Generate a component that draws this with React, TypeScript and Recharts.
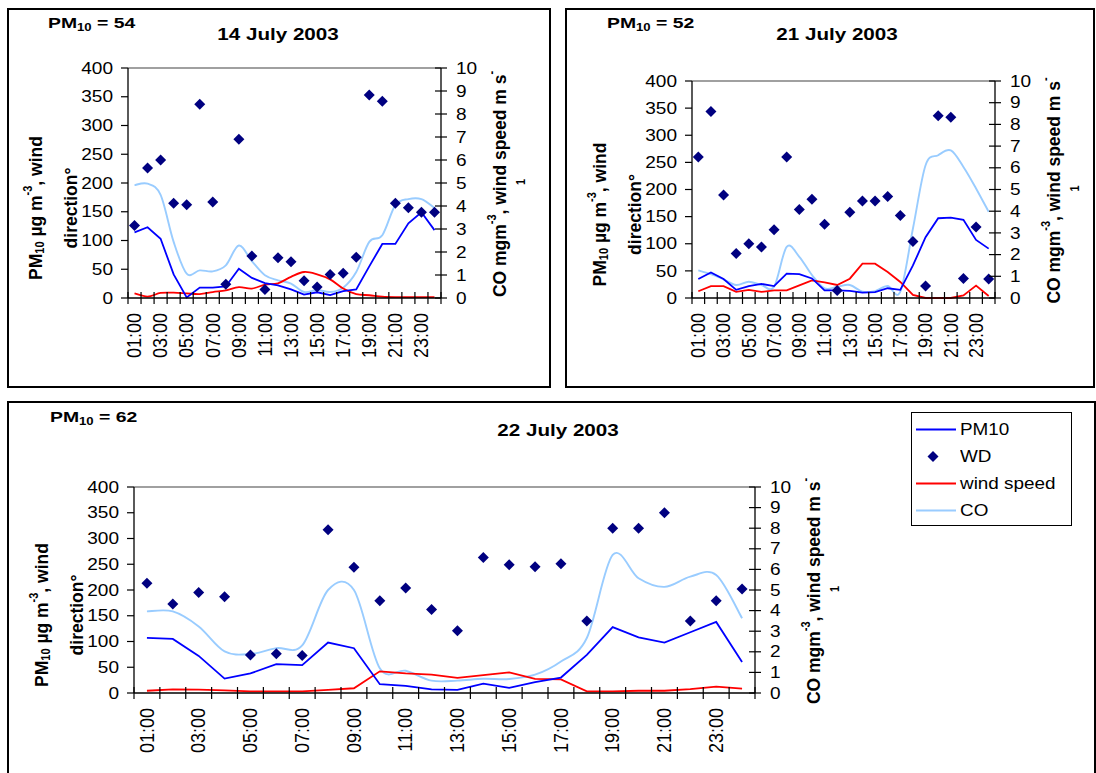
import React from "react";
import { ComposedChart, Line, XAxis, YAxis, ReferenceLine, Legend } from "recharts";

// ---------- categories & ticks ----------
const hours = [
  "01:00", "02:00", "03:00", "04:00", "05:00", "06:00", "07:00", "08:00",
  "09:00", "10:00", "11:00", "12:00", "13:00", "14:00", "15:00", "16:00",
  "17:00", "18:00", "19:00", "20:00", "21:00", "22:00", "23:00", "24:00",
];
const leftTicks = [0, 50, 100, 150, 200, 250, 300, 350, 400];
const rightTicks = [0, 1, 2, 3, 4, 5, 6, 7, 8, 9, 10];
const dayTitles = ["14 July 2003", "21 July 2003", "22 July 2003"];
const dayMeans = [54, 52, 62];
const seriesNames = { pm10: "PM10", wd: "WD", ws: "wind speed", co: "CO" };
const legendOrder = ["pm10", "wd", "ws", "co"];

// ---------- 14 July 2003 ----------
const pm10_14 = [114, 123, 103, 41, 1, 18, 18, 20, 51, 35, 26, 22, 15, 6, 10, 5, 12, 15, 55, 94, 94, 130, 149, 118];
const wd_14 = [126, 226, 240, 165, 162, 337, 167, 24, 276, 73, 15, 70, 63, 30, 19, 41, 43, 71, 353, 342, 165, 157, 149, 149];
const ws_14 = [0.2, 0.06, 0.22, 0.23, 0.2, 0.17, 0.26, 0.33, 0.47, 0.41, 0.58, 0.64, 0.92, 1.13, 1.03, 0.81, 0.41, 0.17, 0.12, 0.06, 0.04, 0.04, 0.04, 0.04];
const co_14 = [4.91, 4.97, 4.48, 2.44, 1.06, 1.2, 1.16, 1.42, 2.28, 1.6, 0.99, 0.77, 0.63, 0.26, 0.35, 0.26, 0.45, 1.13, 2.44, 2.73, 4.04, 4.3, 4.3, 3.92];

// ---------- 21 July 2003 ----------
const pm10_21 = [35, 47, 35, 15, 22, 26, 22, 45, 44, 36, 14, 14, 13, 10, 11, 18, 15, 60, 112, 147, 148, 144, 107, 91];
const wd_21 = [260, 344, 190, 82, 100, 94, 126, 260, 163, 182, 136, 14, 158, 179, 179, 187, 152, 104, 22, 336, 333, 36, 131, 35];
const ws_21 = [0.31, 0.55, 0.55, 0.28, 0.37, 0.28, 0.35, 0.35, 0.58, 0.81, 0.72, 0.6, 0.89, 1.58, 1.58, 1.2, 0.74, 0.14, 0, 0, 0, 0.12, 0.57, 0.09];
const co_21 = [1.27, 1.1, 0.86, 0.6, 0.75, 0.6, 0.52, 2.36, 1.9, 1.06, 0.44, 0.52, 0.6, 0.29, 0.32, 0.55, 0.29, 3.2, 6.12, 6.58, 6.8, 6.04, 5.05, 3.97];

// ---------- 22 July 2003 ----------
const pm10_22 = [107, 105, 72, 28, 38, 56, 54, 98, 87, 17, 14, 7, 6, 18, 10, 21, 30, 74, 128, 108, 98, 118, 138, 60];
const wd_22 = [213, 173, 195, 187, 74, 76, 73, 317, 244, 179, 204, 162, 121, 263, 249, 245, 251, 140, 320, 320, 350, 140, 179, 202];
const ws_22 = [0.11, 0.18, 0.16, 0.13, 0.08, 0.08, 0.08, 0.15, 0.23, 1.05, 0.95, 0.89, 0.73, 0.87, 1.0, 0.69, 0.66, 0.08, 0.08, 0.11, 0.11, 0.19, 0.31, 0.21];
const co_22 = [3.96, 3.96, 3.23, 2.02, 1.89, 2.18, 2.31, 5.0, 5.0, 1.2, 1.08, 0.6, 0.6, 0.69, 0.68, 0.89, 1.53, 2.67, 6.7, 5.57, 5.15, 5.65, 5.73, 3.63];

// ---------- styles ----------
const FONT = '"Liberation Sans", Arial, Helvetica, sans-serif';
const COLORS: Record<string, string> = { pm10: "#0000FF", wd: "#000080", ws: "#FF0000", co: "#99CCFF" };
const Y_TICK_SIZE = 7;
const Y_TICK_MARGIN = 8;
const X_TICK_SIZE = 6;
const X_TICK_MARGIN = 9;
const SX_TICK = 1.12;
const SX_TITLE = 1.25;
const SX_ROT = 1.1;

// Excel-like smoothed line (Catmull-Rom as cubic Bezier)
const excelSmooth: any = (context: any) => {
  let pts: number[][] = [];
  return {
    areaStart() {},
    areaEnd() {},
    lineStart() {
      pts = [];
    },
    lineEnd() {
      const n = pts.length;
      if (n === 0) return;
      context.moveTo(pts[0][0], pts[0][1]);
      for (let i = 0; i < n - 1; i++) {
        const p0 = pts[i > 0 ? i - 1 : i];
        const p1 = pts[i];
        const p2 = pts[i + 1];
        const p3 = pts[i + 2 < n ? i + 2 : i + 1];
        context.bezierCurveTo(
          p1[0] + (p2[0] - p0[0]) / 6,
          p1[1] + (p2[1] - p0[1]) / 6,
          p2[0] - (p3[0] - p1[0]) / 6,
          p2[1] - (p3[1] - p1[1]) / 6,
          p2[0],
          p2[1]
        );
      }
    },
    point(x: number, y: number) {
      pts.push([+x, +y]);
    },
  };
};

const xTicks = [
  ...hours.map((_, i) => i + 0.5),
  hours.length + 0.5,
  ...hours.map((_, i) => i + 1).filter((h) => h % 2 === 1),
].sort((a, b) => a - b);

const XTick = (props: any) => {
  const { x, y, payload } = props;
  const v = payload.value;
  const axisY = y - X_TICK_MARGIN - X_TICK_SIZE;
  if (v % 1 !== 0) {
    return <line x1={x} x2={x} y1={axisY - 6} y2={axisY + 6} stroke="#000" strokeWidth={1.2} />;
  }
  return (
    <text
      transform={`translate(${x} ${y}) scale(${SX_ROT} 1) rotate(-90)`}
      textAnchor="end"
      dominantBaseline="central"
      fontSize={18}
      fontFamily={FONT}
      fill="#000"
    >
      {hours[v - 1]}
    </text>
  );
};

const LeftTick = (props: any) => {
  const { x, y, payload } = props;
  return (
    <text
      transform={`translate(${x} ${y}) scale(${SX_TICK} 1)`}
      textAnchor="end"
      dominantBaseline="central"
      fontSize={17}
      fontFamily={FONT}
      fill="#000"
    >
      {payload.value}
    </text>
  );
};

const RightTick = (props: any) => {
  const { x, y, payload } = props;
  const axisX = x - Y_TICK_MARGIN - Y_TICK_SIZE;
  return (
    <g>
      <line x1={axisX - 6} x2={axisX + 6} y1={y} y2={y} stroke="#000" strokeWidth={1.2} />
      <text
        transform={`translate(${x} ${y}) scale(${SX_TICK} 1)`}
        textAnchor="start"
        dominantBaseline="central"
        fontSize={17}
        fontFamily={FONT}
        fill="#000"
      >
        {payload.value}
      </text>
    </g>
  );
};

const Diamond = (props: any) => {
  const { cx, cy, index } = props;
  if (cx == null || cy == null) return <g key={`d${index}`} />;
  const r = 5.5;
  return (
    <path
      key={`d${index}`}
      d={`M${cx},${cy - r}L${cx + r},${cy}L${cx},${cy + r}L${cx - r},${cy}Z`}
      fill={COLORS.wd}
    />
  );
};

const LegendBox = (props: any) => {
  const payload = (props.payload || []).slice();
  payload.sort(
    (a: any, b: any) => legendOrder.indexOf(a.dataKey) - legendOrder.indexOf(b.dataKey)
  );
  return (
    <div
      style={{
        boxSizing: "border-box",
        width: 161,
        height: 114,
        border: "1px solid #000",
        background: "#fff",
        paddingTop: 3,
      }}
    >
      {payload.map((entry: any) => (
        <div key={entry.dataKey} style={{ display: "flex", alignItems: "center", height: 27 }}>
          <svg width={46} height={27} style={{ display: "block" }}>
            {entry.dataKey === "wd" ? (
              <path d="M21,8L26.5,13.5L21,19L15.5,13.5Z" fill={COLORS.wd} />
            ) : (
              <line x1={4} x2={44} y1={13.5} y2={13.5} stroke={COLORS[entry.dataKey]} strokeWidth={1.8} />
            )}
          </svg>
          <span
            style={{
              fontFamily: FONT,
              fontSize: 16,
              color: "#000",
              marginLeft: 2,
              display: "inline-block",
              transform: "scaleX(1.18)",
              transformOrigin: "left center",
              whiteSpace: "nowrap",
            }}
          >
            {entry.value}
          </span>
        </div>
      ))}
    </div>
  );
};

type PanelLayout = {
  left: number;
  top: number;
  width: number;
  height: number;
  mTop: number;
  mRight: number;
  leftW: number;
  rightW: number;
  xH: number;
  meanX: number;
  meanY: number;
  titleX: number;
  titleY: number;
  legend: boolean;
};

const layouts: PanelLayout[] = [
  { left: 7, top: 8, width: 544, height: 380, mTop: 60, mRight: 0, leftW: 121, rightW: 110, xH: 90, meanX: 48, meanY: 28, titleX: 278, titleY: 40, legend: false },
  { left: 565, top: 8, width: 530, height: 380, mTop: 73, mRight: 0, leftW: 127, rightW: 100, xH: 90, meanX: 607, meanY: 28, titleX: 837, titleY: 40, legend: false },
  { left: 7, top: 401, width: 1089, height: 380, mTop: 86, mRight: 241, leftW: 127, rightW: 100, xH: 88, meanX: 50, meanY: 422, titleX: 558, titleY: 436, legend: true },
];

const panelData = [
  { pm10: pm10_14, wd: wd_14, ws: ws_14, co: co_14, wsSmooth: true },
  { pm10: pm10_21, wd: wd_21, ws: ws_21, co: co_21, wsSmooth: false },
  { pm10: pm10_22, wd: wd_22, ws: ws_22, co: co_22, wsSmooth: false },
];

const Panel = ({ idx }: { idx: number }) => {
  const L = layouts[idx];
  const d = panelData[idx];
  const rows = hours.map((h, i) => ({
    hour: i + 1,
    label: h,
    pm10: d.pm10[i],
    wd: d.wd[i],
    ws: d.ws[i],
    co: d.co[i],
  }));
  return (
    <div style={{ position: "absolute", left: L.left, top: L.top, width: L.width, height: L.height }}>
      <ComposedChart
        width={L.width}
        height={L.height}
        data={rows}
        margin={{ top: L.mTop, right: L.mRight, bottom: 0, left: 0 }}
      >
        <XAxis
          xAxisId={0}
          type="number"
          dataKey="hour"
          domain={[0.5, hours.length + 0.5]}
          ticks={xTicks}
          interval={0}
          tickSize={X_TICK_SIZE}
          tickMargin={X_TICK_MARGIN}
          tickLine={false}
          tick={<XTick />}
          axisLine={{ stroke: "#000", strokeWidth: 1.3 }}
          height={L.xH}
        />
        <YAxis
          yAxisId="l"
          orientation="left"
          domain={[0, 400]}
          ticks={leftTicks}
          interval={0}
          width={L.leftW}
          tickSize={Y_TICK_SIZE}
          tickMargin={Y_TICK_MARGIN}
          tickLine={{ stroke: "#000", strokeWidth: 1.2 }}
          axisLine={{ stroke: "#000", strokeWidth: 1.3 }}
          tick={<LeftTick />}
        />
        <YAxis
          yAxisId="r"
          orientation="right"
          domain={[0, 10]}
          ticks={rightTicks}
          interval={0}
          width={L.rightW}
          tickSize={Y_TICK_SIZE}
          tickMargin={Y_TICK_MARGIN}
          tickLine={false}
          axisLine={{ stroke: "#000", strokeWidth: 1.3 }}
          tick={<RightTick />}
        />
        <ReferenceLine yAxisId="l" y={400} stroke="#808080" strokeWidth={1.3} />
        <Line
          yAxisId="r"
          dataKey="co"
          name={seriesNames.co}
          stroke={COLORS.co}
          strokeWidth={1.9}
          type={excelSmooth}
          dot={false}
          activeDot={false}
          isAnimationActive={false}
        />
        <Line
          yAxisId="r"
          dataKey="ws"
          name={seriesNames.ws}
          stroke={COLORS.ws}
          strokeWidth={1.8}
          type={d.wsSmooth ? excelSmooth : "linear"}
          dot={false}
          activeDot={false}
          isAnimationActive={false}
        />
        <Line
          yAxisId="l"
          dataKey="pm10"
          name={seriesNames.pm10}
          stroke={COLORS.pm10}
          strokeWidth={1.8}
          type="linear"
          dot={false}
          activeDot={false}
          isAnimationActive={false}
        />
        <Line
          yAxisId="l"
          dataKey="wd"
          name={seriesNames.wd}
          stroke="none"
          legendType="diamond"
          type="linear"
          dot={(p: any) => <Diamond {...p} key={`wd${p.index}`} />}
          activeDot={false}
          isAnimationActive={false}
        />
        {L.legend && (
          <Legend
            layout="vertical"
            align="center"
            verticalAlign="middle"
            content={<LegendBox />}
            wrapperStyle={{ position: "absolute", left: 904, top: 11, width: 161, height: 114 }}
          />
        )}
      </ComposedChart>
      <div
        style={{
          position: "absolute",
          left: 0,
          top: 0,
          width: L.width,
          height: L.height,
          boxSizing: "border-box",
          border: "2px solid #000",
          pointerEvents: "none",
        }}
      />
    </div>
  );
};

const Titles = () => (
  <svg
    width={1096}
    height={773}
    style={{ position: "absolute", left: 0, top: 0, pointerEvents: "none" }}
  >
    {layouts.map((L, idx) => {
      const plotLeft = L.left + L.leftW;
      const plotRight = L.left + L.width - L.mRight - L.rightW;
      const plotTop = L.top + L.mTop;
      const plotBottom = L.top + L.height - L.xH;
      const cy = (plotTop + plotBottom) / 2;
      return (
        <g key={idx} fontFamily={FONT} fill="#000" fontWeight="bold">
          <text transform={`translate(${L.meanX} ${L.meanY}) scale(${SX_TITLE} 1)`} fontSize={15.5}>
            PM
            <tspan fontSize={10.5} dy={3}>10</tspan>
            <tspan dy={-3}> = {dayMeans[idx]}</tspan>
          </text>
          <text
            transform={`translate(${L.titleX} ${L.titleY}) scale(${SX_TITLE} 1)`}
            fontSize={16.5}
            textAnchor="middle"
          >
            {dayTitles[idx]}
          </text>
          <text
            transform={`translate(${plotLeft - 93} ${cy + 25}) scale(${SX_ROT} 1) rotate(-90)`}
            fontSize={17.5}
            textAnchor="middle"
            dominantBaseline="central"
          >
            PM
            <tspan fontSize={11} dy={4}>10</tspan>
            <tspan dy={-4}> µg m</tspan>
            <tspan fontSize={11} dy={-7}>-3</tspan>
            <tspan dy={7}>, wind</tspan>
          </text>
          <text
            transform={`translate(${plotLeft - 58} ${cy + 25}) scale(${SX_ROT} 1) rotate(-90)`}
            fontSize={17.5}
            textAnchor="middle"
            dominantBaseline="central"
          >
            direction°
          </text>
          <text
            transform={`translate(${plotRight + 58} ${cy + 1}) scale(${SX_ROT} 1) rotate(-90)`}
            fontSize={17.5}
            textAnchor="middle"
            dominantBaseline="central"
          >
            CO mgm
            <tspan fontSize={11} dy={-7}>-3</tspan>
            <tspan dy={7}>, wind speed m s</tspan>
            <tspan fontSize={11} dy={-7}>-</tspan>
          </text>
          <text
            transform={`translate(${plotRight + 80} ${cy - 1}) scale(${SX_ROT} 1) rotate(-90)`}
            fontSize={11}
            textAnchor="middle"
            dominantBaseline="central"
          >
            1
          </text>
        </g>
      );
    })}
  </svg>
);

export default function App() {
  return (
    <div
      style={{
        position: "absolute",
        left: 0,
        top: 0,
        width: 1096,
        height: 773,
        overflow: "hidden",
        background: "#fff",
        fontFamily: FONT,
      }}
    >
      <Panel idx={0} />
      <Panel idx={1} />
      <Panel idx={2} />
      <Titles />
    </div>
  );
}
